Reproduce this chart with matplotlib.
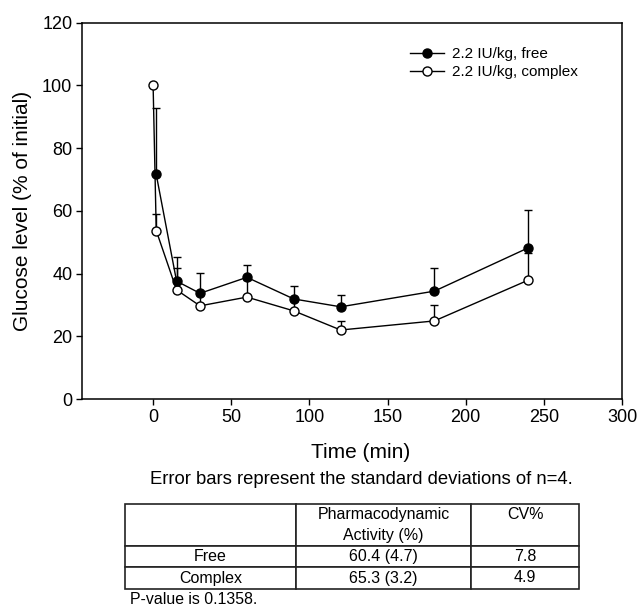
import numpy as np
import matplotlib
matplotlib.use("Agg")
import matplotlib.pyplot as plt
from matplotlib.lines import Line2D

plt.rcParams['font.family'] = ['Liberation Sans', 'DejaVu Sans']

# glucose level (% of initial) over time, mean and upper SD
time_free = [2, 15, 30, 60, 90, 120, 180, 240]
glucose_free = [71.6, 37.6, 33.7, 38.8, 31.9, 29.4, 34.4, 48.2]
sd_free = [21.3, 7.8, 6.6, 3.9, 4.2, 3.9, 7.5, 12.1]

time_complex = [0, 2, 15, 30, 60, 90, 120, 180, 240]
glucose_complex = [100, 53.7, 34.8, 29.7, 32.5, 28.1, 22.0, 24.9, 37.9]
sd_complex = [0, 5.4, 7.1, 3.4, 5.5, 3.0, 2.9, 5.1, 8.7]

x_ticks = [0, 50, 100, 150, 200, 250, 300]
y_ticks = [0, 20, 40, 60, 80, 100, 120]

table_rows = ['', 'Free', 'Complex']
activity = ['Pharmacodynamic\nActivity (%)', '60.4 (4.7)', '65.3 (3.2)']
cv = ['CV%\n ', '7.8', '4.9']

W, H = 639, 606
fig = plt.figure(figsize=(W / 100, H / 100), dpi=100)

def px(x0, y0, x1, y1):
    # pixel box (top-left origin) -> figure fraction rect
    return [x0 / W, 1 - y1 / H, (x1 - x0) / W, (y1 - y0) / H]

ax = fig.add_axes(px(82, 22.7, 622, 399))

style = dict(color='black', lw=1.0, elinewidth=1.0, capsize=3.2, capthick=1.0,
             marker='o', ms=6.5, mec='black', mew=1.0)
ax.errorbar(time_complex, glucose_complex,
            yerr=[np.zeros(len(sd_complex)), sd_complex],
            mfc='white', zorder=2, **style)
ax.errorbar(time_free, glucose_free,
            yerr=[np.zeros(len(sd_free)), sd_free],
            mfc='black', zorder=3, **style)

ax.set_xlim(-45.5, 300)
ax.set_ylim(0, 120)
ax.set_xticks(x_ticks)
ax.set_yticks(y_ticks)
ax.tick_params(direction='out', length=4, width=1.0, labelsize=13, pad=3)
for s in ax.spines.values():
    s.set_linewidth(1.1)

ax.set_ylabel('Glucose level (% of initial)', fontsize=15)
ax.yaxis.set_label_coords(-0.093, 0.5)

handles = [
    Line2D([], [], color='black', lw=1.0, marker='o', ms=6.5, mfc='black', mec='black'),
    Line2D([], [], color='black', lw=1.0, marker='o', ms=6.5, mfc='white', mec='black'),
]
ax.legend(handles, ['2.2 IU/kg, free', '2.2 IU/kg, complex'], loc='upper left',
          bbox_to_anchor=(0.597, 0.952), frameon=False, fontsize=11,
          handlelength=2.2, handletextpad=0.5, labelspacing=0.3,
          borderaxespad=0)

fig.text(361 / W, 1 - 452 / H, 'Time (min)', fontsize=15,
         ha='center', va='center')
fig.text(361 / W, 1 - 479 / H, 'Error bars represent the standard deviations of n=4.',
         fontsize=13.3, ha='center', va='center')
fig.text(130 / W, 1 - 599 / H, 'P-value is 0.1358.', fontsize=11.4,
         ha='left', va='center')

tax = fig.add_axes(px(125, 504, 579, 589))
tax.axis('off')
cells = [[table_rows[i], activity[i], cv[i]] for i in range(3)]
tbl = tax.table(cellText=cells, cellLoc='center', bbox=[0, 0, 1, 1],
                colWidths=[171, 175, 108])
tbl.auto_set_font_size(False)
row_h = [41.7, 21.3, 22.0]
for (r, c), cell in tbl.get_celld().items():
    cell.set_height(row_h[r])
    cell.set_linewidth(1.2)
    cell.set_edgecolor('#222222')
    cell.get_text().set_fontsize(11.5)
    cell.get_text().set_linespacing(1.55)

fig.savefig('out.png', dpi=100)
